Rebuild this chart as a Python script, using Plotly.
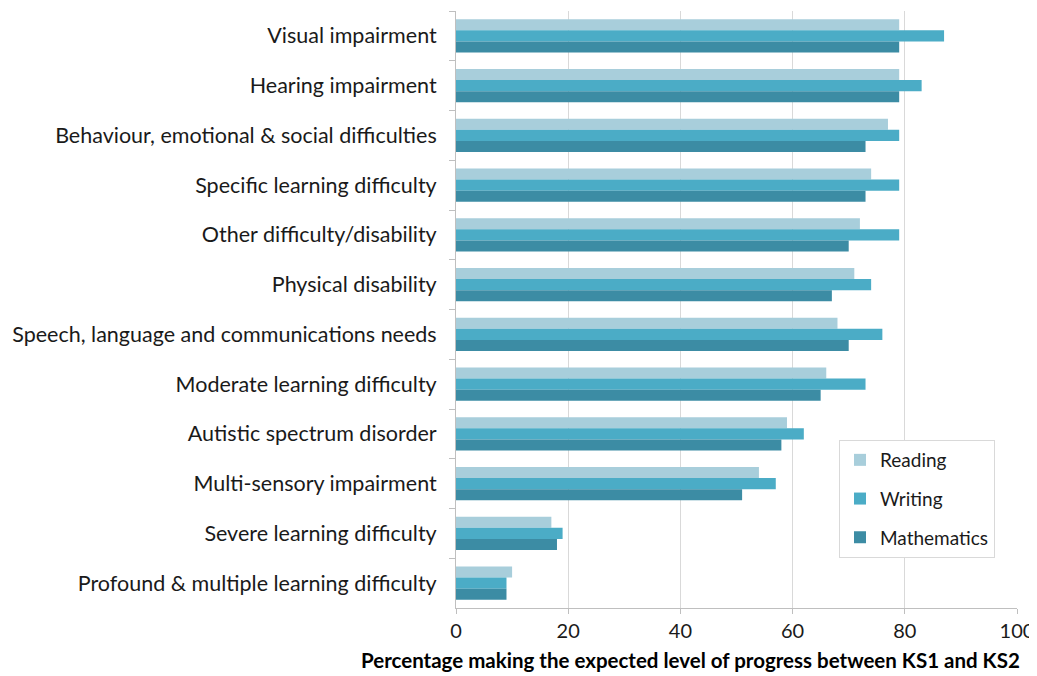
import plotly.graph_objects as go

categories = [
    "Visual impairment",
    "Hearing impairment",
    "Behaviour, emotional & social difficulties",
    "Specific learning difficulty",
    "Other difficulty/disability",
    "Physical disability",
    "Speech, language and communications needs",
    "Moderate learning difficulty",
    "Autistic spectrum disorder",
    "Multi-sensory impairment",
    "Severe learning difficulty",
    "Profound & multiple learning difficulty",
]
reading = [79, 79, 77, 74, 72, 71, 68, 66, 59, 54, 17, 10]
writing = [87, 83, 79, 79, 79, 74, 76, 73, 62, 57, 19, 9]
mathematics = [79, 79, 73, 73, 70, 67, 70, 65, 58, 51, 18, 9]
x_ticks = [0, 20, 40, 60, 80, 100]
x_title = "Percentage making the expected level of progress between KS1 and KS2"

series = [("Reading", reading, "#A8CEDB"),
          ("Writing", writing, "#4BACC6"),
          ("Mathematics", mathematics, "#3C8CA4")]

FONT = "Lato, 'Open Sans', sans-serif"

fig = go.Figure()
for name, vals, col in series:
    fig.add_trace(go.Bar(
        y=categories, x=vals, name=name, orientation="h",
        legendgroup=name,
        marker=dict(color=col, line=dict(width=0)),
    ))

# page body has an 8px margin, so the figure is sized to fit inside it
fig.update_layout(
    width=1029, height=668,
    barmode="group", bargap=0.33, bargroupgap=0,
    plot_bgcolor="white", paper_bgcolor="white",
    margin=dict(l=448, r=20, t=3, b=68, autoexpand=False),
    font=dict(family=FONT, size=20, color="#1a1a1a"),
    legend=dict(
        x=(839 - 456) / 561, y=(608 - 440) / 597, xanchor="left", yanchor="top",
        bordercolor="#D9D9D9", borderwidth=1, bgcolor="white",
        font=dict(size=19), tracegroupgap=11,
    ),
    xaxis=dict(
        range=[0, 100], tickvals=x_ticks, automargin=False,
        showgrid=True, gridcolor="#D9D9D9", gridwidth=1,
        showline=True, linecolor="#BFBFBF", linewidth=1,
        ticks="outside", ticklen=5, tickcolor="#BFBFBF",
        zeroline=False,
        tickfont=dict(size=20),
    ),
    yaxis=dict(
        autorange="reversed", automargin=False,
        showline=True, linecolor="#BFBFBF", linewidth=1,
        ticks="outside", ticklen=6, tickcolor="#BFBFBF",
        tickson="boundaries", showgrid=False,
        tickfont=dict(size=21.5), ticklabelstandoff=14,
    ),
)

fig.add_annotation(
    text="<b>" + x_title + "</b>",
    xref="paper", yref="paper", x=(690 - 456) / 561, y=0,
    xanchor="center", yanchor="top", yshift=-39, borderpad=0,
    showarrow=False, font=dict(size=20.5, color="#000000"),
)

fig.write_html("out.html")
